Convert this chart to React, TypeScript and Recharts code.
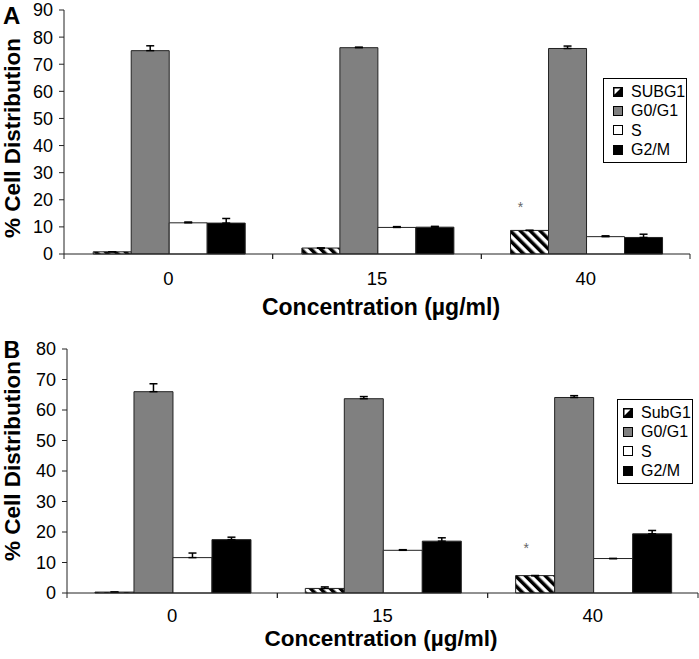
import { Bar, BarChart, ErrorBar, LabelList, Legend, XAxis, YAxis } from 'recharts'

const concentrations = ['0', '15', '40']

// panel A
const subG1A = [0.8, 2.2, 8.7]
const subG1ErrA = [0, 0, 0]
const g0g1A = [75.0, 76.1, 75.8]
const g0g1ErrA = [1.8, 0.2, 0.9]
const sPhaseA = [11.5, 9.8, 6.4]
const sPhaseErrA = [0.3, 0.3, 0.3]
const g2mA = [11.4, 9.9, 6.1]
const g2mErrA = [1.7, 0.3, 1.2]
const starsA = ['', '', '*']
const yTicksA = [0, 10, 20, 30, 40, 50, 60, 70, 80, 90]
const legendA = ['SUBG1', 'G0/G1', 'S', 'G2/M']

// panel B
const subG1B = [0.3, 1.5, 5.7]
const subG1ErrB = [0, 0.5, 0]
const g0g1B = [66.0, 63.7, 64.1]
const g0g1ErrB = [2.6, 0.7, 0.6]
const sPhaseB = [11.6, 14.0, 11.3]
const sPhaseErrB = [1.5, 0.2, 0]
const g2mB = [17.5, 17.0, 19.4]
const g2mErrB = [0.8, 1.1, 1.1]
const starsB = ['', '', '*']
const yTicksB = [0, 10, 20, 30, 40, 50, 60, 70, 80]
const legendB = ['SubG1', 'G0/G1', 'S', 'G2/M']

const xTitle = 'Concentration (µg/ml)'
const yTitle = '% Cell Distribution'

const FONT = "'Liberation Sans', Arial, Helvetica, sans-serif"

function buildRows(
  sub: number[], subErr: number[], g0: number[], g0Err: number[],
  s: number[], sErr: number[], g2: number[], g2Err: number[], stars: string[],
) {
  return concentrations.map((conc, i) => ({
    conc,
    subG1: sub[i], subG1Err: [0, subErr[i]],
    g0g1: g0[i], g0g1Err: [0, g0Err[i]],
    sPhase: s[i], sPhaseErr: [0, sErr[i]],
    g2m: g2[i], g2mErr: [0, g2Err[i]],
    star: stars[i],
  }))
}

const rowsA = buildRows(subG1A, subG1ErrA, g0g1A, g0g1ErrA, sPhaseA, sPhaseErrA, g2mA, g2mErrA, starsA)
const rowsB = buildRows(subG1B, subG1ErrB, g0g1B, g0g1ErrB, sPhaseB, sPhaseErrB, g2mB, g2mErrB, starsB)

function makeConcTick(tickMargin: number, fallbackHalf: number) {
  return (props: any) => {
    const { x, y, payload } = props
    const half = payload?.offset || fallbackHalf
    const axisY = y - tickMargin
    return (
      <g>
        <line x1={x - half} x2={x - half} y1={axisY} y2={axisY + 5} stroke="#222" />
        <line x1={x + half} x2={x + half} y1={axisY} y2={axisY + 5} stroke="#222" />
        <text x={x} y={y} dy="0.71em" textAnchor="middle" fontSize={18.5} fill="#000" fontFamily={FONT}>
          {payload.value}
        </text>
      </g>
    )
  }
}

function LegendIcon({ index }: { index: number }) {
  const fills = ['#000', '#808080', '#fff', '#000']
  return (
    <svg width={10} height={10} style={{ marginRight: 8, flexShrink: 0, display: 'block' }}>
      <rect x={0.5} y={0.5} width={9} height={9} fill={fills[index]} stroke="#000" />
      {index === 0 && <polygon points="1.5,1.5 7.5,1.5 1.5,7.5" fill="#fff" />}
    </svg>
  )
}

function LegendBox({ names, padLeft }: { names: string[]; padLeft: number }) {
  return (
    <div
      style={{
        border: '1px solid #000',
        background: '#fff',
        padding: `3px 0 3px ${padLeft}px`,
        fontSize: 16,
        lineHeight: '19.3px',
        fontFamily: FONT,
        color: '#000',
      }}
    >
      {names.map((n, i) => (
        <div key={n} style={{ display: 'flex', alignItems: 'center' }}>
          <LegendIcon index={i} />
          <span>{n}</span>
        </div>
      ))}
    </div>
  )
}

type PanelProps = {
  rows: ReturnType<typeof buildRows>
  yTicks: number[]
  height: number
  margin: { top: number; right: number; left: number; bottom: number }
  yAxisWidth: number
  gap: string
  tickMargin: number
  hatchId: string
  names: string[]
  legendBox: { left: number; top: number; width: number; padLeft: number }
  starLift: number
}

function Panel(p: PanelProps) {
  const plotWidth = 699 - p.margin.left - p.margin.right - p.yAxisWidth
  const tick = makeConcTick(p.tickMargin, plotWidth / concentrations.length / 2)
  const barStroke = '#222'
  return (
    <BarChart
      width={699}
      height={p.height}
      data={p.rows}
      margin={p.margin}
      barCategoryGap={p.gap}
      barGap={0}
      style={{ fontFamily: FONT }}
    >
      <defs>
        <pattern id={p.hatchId} patternUnits="userSpaceOnUse" width={7} height={7} patternTransform="rotate(-45)">
          <rect width={7} height={7} fill="#fff" />
          <line x1={1.75} y1={0} x2={1.75} y2={7} stroke="#000" strokeWidth={3.5} />
        </pattern>
      </defs>
      <XAxis
        dataKey="conc"
        height={66}
        tickLine={false}
        tickSize={0}
        tickMargin={p.tickMargin}
        axisLine={{ stroke: '#222' }}
        tick={tick}
        interval={0}
      />
      <YAxis
        width={p.yAxisWidth}
        domain={[0, p.yTicks[p.yTicks.length - 1]]}
        ticks={p.yTicks}
        interval={0}
        tickSize={5}
        tickMargin={6}
        axisLine={{ stroke: '#222' }}
        tickLine={{ stroke: '#222' }}
        tick={{ fontSize: 18, fill: '#000', fontFamily: FONT }}
      />
      <Legend
        layout="vertical"
        align="center"
        verticalAlign="middle"
        wrapperStyle={{ left: p.legendBox.left, top: p.legendBox.top, width: p.legendBox.width }}
        content={() => <LegendBox names={p.names} padLeft={p.legendBox.padLeft} />}
      />
      <Bar dataKey="subG1" name={p.names[0]} fill={`url(#${p.hatchId})`} stroke={barStroke} isAnimationActive={false}>
        <ErrorBar dataKey="subG1Err" width={4} stroke="#000" direction="y" />
        <LabelList
          dataKey="star"
          content={(lp: any) =>
            lp.value ? (
              <text
                x={lp.x + lp.width / 2 - 9}
                y={lp.y - p.starLift}
                textAnchor="middle"
                fontSize={14}
                fill="#666"
                fontFamily={FONT}
              >
                {lp.value}
              </text>
            ) : null
          }
        />
      </Bar>
      <Bar dataKey="g0g1" name={p.names[1]} fill="#808080" stroke={barStroke} isAnimationActive={false}>
        <ErrorBar dataKey="g0g1Err" width={4} stroke="#000" direction="y" />
      </Bar>
      <Bar dataKey="sPhase" name={p.names[2]} fill="#fff" stroke={barStroke} isAnimationActive={false}>
        <ErrorBar dataKey="sPhaseErr" width={4} stroke="#000" direction="y" />
      </Bar>
      <Bar dataKey="g2m" name={p.names[3]} fill="#000" stroke={barStroke} isAnimationActive={false}>
        <ErrorBar dataKey="g2mErr" width={4} stroke="#000" direction="y" />
      </Bar>
    </BarChart>
  )
}

const abs = (left: number, top: number, extra: React.CSSProperties = {}): React.CSSProperties => ({
  position: 'absolute',
  left,
  top,
  fontFamily: FONT,
  lineHeight: 0.8,
  whiteSpace: 'nowrap',
  color: '#000',
  ...extra,
})

// with line-height 0.8 the baseline sits about 0.7465em below the box top
export default function App() {
  return (
    <div style={{ position: 'absolute', left: 0, top: 0, width: 699, height: 659, background: '#fff', overflow: 'hidden' }}>
      <div style={{ position: 'absolute', left: 0, top: 0 }}>
        <Panel
          rows={rowsA}
          yTicks={yTicksA}
          height={320}
          margin={{ top: 10, right: 9, left: 0, bottom: 0 }}
          yAxisWidth={64}
          gap="14%"
          tickMargin={18}
          hatchId="hatchA"
          names={legendA}
          legendBox={{ left: 603, top: 78, width: 84, padLeft: 9 }}
          starLift={18}
        />
      </div>
      <div style={{ position: 'absolute', left: 0, top: 320 }}>
        <Panel
          rows={rowsB}
          yTicks={yTicksB}
          height={339}
          margin={{ top: 29, right: 1, left: 0, bottom: 0 }}
          yAxisWidth={67}
          gap="13.3%"
          tickMargin={15.5}
          hatchId="hatchB"
          names={legendB}
          legendBox={{ left: 617, top: 79, width: 76, padLeft: 5 }}
          starLift={23}
        />
      </div>

      <div style={abs(3, 6.1, { fontSize: 24, fontWeight: 'bold' })}>A</div>
      <div style={abs(3.5, 341.1, { fontSize: 23, fontWeight: 'bold' })}>B</div>

      <div style={abs(13, 137.5, { fontSize: 22.5, fontWeight: 'bold', transform: 'translate(-50%, -50%) rotate(-90deg)' })}>
        {yTitle}
      </div>
      <div style={abs(13, 461, { fontSize: 22.5, fontWeight: 'bold', transform: 'translate(-50%, -50%) rotate(-90deg)' })}>
        {yTitle}
      </div>

      <div style={abs(381, 297.8, { fontSize: 23, fontWeight: 'bold', transform: 'translateX(-50%)' })}>{xTitle}</div>
      <div style={abs(381, 630, { fontSize: 22.5, fontWeight: 'bold', transform: 'translateX(-50%)' })}>{xTitle}</div>
    </div>
  )
}
